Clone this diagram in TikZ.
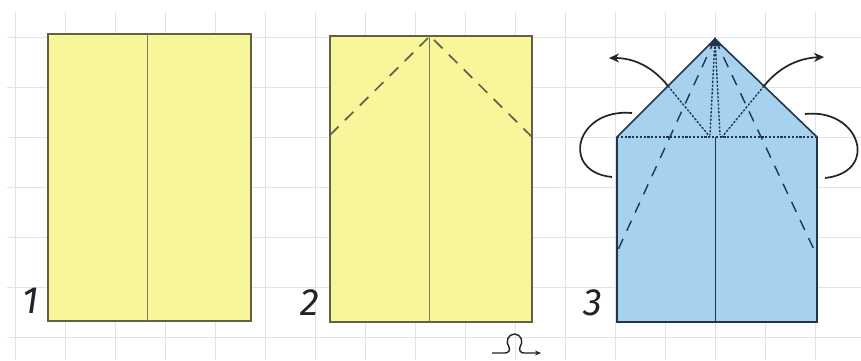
\documentclass[tikz,border=0pt]{standalone}
\usepackage{fontspec}
\setmainfont{Fira Sans}
\usetikzlibrary{arrows.meta}
\definecolor{gridline}{RGB}{220,228,235}
\definecolor{paperyellow}{RGB}{248,246,155}
\definecolor{yellowedge}{RGB}{98,98,66}
\definecolor{paperblue}{RGB}{166,210,240}
\definecolor{blueedge}{RGB}{34,52,78}
\definecolor{ink}{RGB}{35,35,35}
\begin{document}
\begin{tikzpicture}[x=1pt,y=-1pt,
  sheetY/.style={fill=paperyellow,draw=yellowedge,line width=1.9pt},
  creaseY/.style={draw=yellowedge!85,line width=0.9pt},
  valleyY/.style={draw=yellowedge,line width=1.7pt,dash pattern=on 12pt off 9pt},
  sheetB/.style={fill=paperblue,draw=blueedge,line width=1.6pt},
  creaseB/.style={draw=blueedge,line width=1pt},
  valleyB/.style={draw=blueedge,line width=1.4pt,dash pattern=on 11pt off 9pt},
  mountainB/.style={draw=blueedge,line width=1.4pt,dash pattern=on 2.2pt off 1.6pt},
  foldarrow/.style={draw=ink,line width=1.7pt,-{Stealth[length=10pt,width=9pt]}},
  loopline/.style={draw=ink,line width=1.7pt},
  steplabel/.style={font=\fontsize{38}{38}\selectfont\itshape,text=ink,anchor=base,inner sep=0pt}]
\useasboundingbox (0,0) rectangle (861,360);
\fill[white] (0,0) rectangle (861,360);

% squared background
\foreach \gx in {15,65,...,815}
  \draw[gridline,line width=0.8pt] (\gx,12) -- (\gx,360);
\foreach \gy in {37,87,...,337}
  \draw[gridline,line width=0.8pt] (7,\gy) -- (861,\gy);

% step 1: sheet with centre crease
\draw[sheetY] (48,34) rectangle (251,321);
\draw[creaseY] (147,34) -- (147,321);
\node[steplabel] (n1) at (31,313) {1};

% step 2: fold the top corners to the centre
\draw[sheetY] (330,36) rectangle (532,322);
\draw[creaseY] (429,36) -- (429,322);
\coordinate (s2l) at (330,135);
\coordinate (s2r) at (532,137);
\coordinate (s2a) at (428,38);
\coordinate (s2b) at (432,38);
\draw[valleyY] (s2l) -- (s2a);
\draw[valleyY] (s2r) -- (s2b);
\node[steplabel] (n2) at (310,315) {2};

% turn-over sign
\coordinate (tov1) at (492,353);
\coordinate (tov2) at (541,353);
\draw[loopline,line width=1.4pt,-{Stealth[length=6pt,width=5pt]}]
  (tov1) -- (505,353) .. controls (509,353) and (510,350) .. (509,347)
  .. controls (505,342) and (508,334) .. (514.5,334)
  .. controls (521,334) and (524,342) .. (520,347)
  .. controls (519,350) and (520,353) .. (524,353) -- (tov2);

% step 3: blue sheet with folded point
\coordinate (apex) at (715,39);
\coordinate (tl) at (617,137);
\coordinate (tr) at (817,137);
\coordinate (bl) at (617,322);
\coordinate (br) at (817,322);
\draw[sheetB] (bl) -- (tl) -- (apex) -- (tr) -- (br) -- cycle;
\draw[creaseB] (715,137) -- (715,322);
\draw[mountainB] (tl) -- (tr);
\draw[mountainB] (apex) -- (710,135);
\draw[mountainB] (apex) -- (720,135);
\coordinate (el) at (668,86);
\coordinate (er) at (764,86);
\draw[mountainB] (el) -- (710,137);
\draw[mountainB] (er) -- (722,137);
\coordinate (dl) at (617,252);
\coordinate (dr) at (817,256);
\draw[valleyB] (apex) -- (dl);
\draw[valleyB] (apex) -- (dr);
\fill[blueedge] (715,37) -- (709,46) -- (721,46) -- cycle;

% fold-out arrows
\coordinate (al) at (609,58);
\coordinate (ar) at (824,57);
\draw[foldarrow] (el) .. controls (652,66) and (633,58) .. (al);
\draw[foldarrow] (er) .. controls (780,66) and (800,58) .. (ar);

% fold-behind loops
\coordinate (ll1) at (632,113);
\coordinate (ll2) at (612,177);
\coordinate (rl1) at (805,114);
\coordinate (rl2) at (825,178);
\draw[loopline] (ll1) .. controls (575,108) and (560,172) .. (ll2);
\draw[loopline] (rl1) .. controls (860,108) and (880,172) .. (rl2);

\node[steplabel] (n3) at (593,315) {3};
\end{tikzpicture}
\end{document}
